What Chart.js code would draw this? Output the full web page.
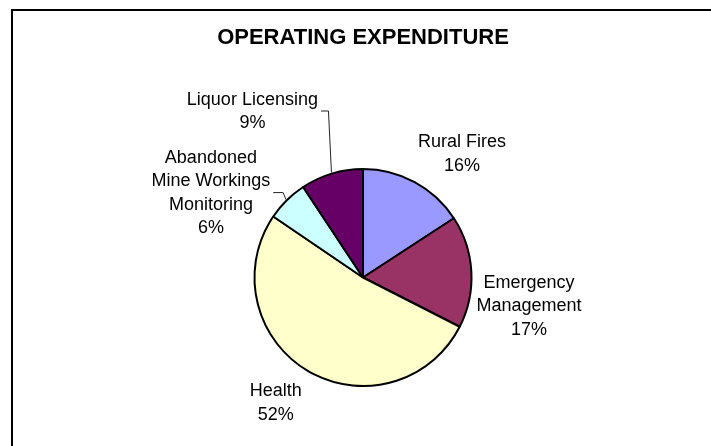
<!DOCTYPE html>
<html>
<head>
<meta charset="utf-8">
<script src="https://cdn.jsdelivr.net/npm/chart.js@4.4.0/dist/chart.umd.min.js"></script>
<style>
    html, body { margin: 0; padding: 0; background: #fff; overflow: hidden; }
    #frame {
        position: absolute; left: 11px; top: 9px; width: 800px; height: 600px;
        border-left: 2px solid #000; border-top: 2px solid #000;
    }
    #expChart { position: absolute; left: 0; top: 0; }
</style>
</head>
<body>
<div id="frame"></div>
<canvas id="expChart" width="711" height="446"></canvas>
<script>
// ── DATA ────────────────────────────────────────────────────────────────
const categories = [
    ['Rural Fires'],
    ['Emergency', 'Management'],
    ['Health'],
    ['Abandoned', 'Mine Workings', 'Monitoring'],
    ['Liquor Licensing']
];
const expenditure = [15.8, 16.7, 52.0, 6.2, 9.3];
const sliceColors = ['#9999FF', '#993366', '#FFFFCC', '#CCFFFF', '#660066'];

// label placement relative to each slice: angle shift (deg) from the slice middle,
// distance as a multiple of the pie radius, and whether a leader line is drawn
const labelPlace = [
    { shift: 9.9, dist: 1.47, leader: false },
    { shift: 12.4, dist: 1.55, leader: false },
    { shift: 4.5, dist: 1.40, leader: false },
    { shift: -15.9, dist: 1.61, leader: true },
    { shift: -16.7, dist: 1.85, leader: true }
];

const FONT = '"Liberation Sans", Arial, sans-serif';

// ── SLICE LABELS PLUGIN ─────────────────────────────────────────────────
const sliceLabels = {
    id: 'sliceLabels',
    afterDatasetsDraw(chart) {
        const ctx = chart.ctx;
        const meta = chart.getDatasetMeta(0);
        const total = expenditure.reduce((a, b) => a + b, 0);
        const size = 18, lh = 23.5, cap = size * 0.716;

        ctx.save();
        ctx.font = size + 'px ' + FONT;
        ctx.fillStyle = '#000';
        ctx.textAlign = 'center';
        ctx.textBaseline = 'alphabetic';

        meta.data.forEach((arc, i) => {
            const { x, y, startAngle, endAngle, outerRadius } =
                arc.getProps(['x', 'y', 'startAngle', 'endAngle', 'outerRadius'], true);
            const mid = (startAngle + endAngle) / 2;
            const p = labelPlace[i];
            const a = mid + p.shift * Math.PI / 180;
            const d = outerRadius * p.dist;
            const cx = x + Math.cos(a) * d;
            const cy = y + Math.sin(a) * d;

            const lines = categories[i].concat([Math.round(expenditure[i] / total * 100) + '%']);
            const top = cy - (lines.length - 1) / 2 * lh;
            lines.forEach((t, k) => ctx.fillText(t, cx, top + k * lh + cap / 2));

            if (p.leader) {
                const w = Math.max(...lines.map(t => ctx.measureText(t).width));
                const r = outerRadius + 1;
                const ex = x + Math.cos(mid) * r;
                const ey = y + Math.sin(mid) * r;
                ctx.strokeStyle = '#222';
                ctx.lineWidth = 1;
                ctx.beginPath();
                ctx.moveTo(cx + w / 2 + 3, cy + 1);
                ctx.lineTo(ex - 3, cy + 1);
                ctx.lineTo(ex, ey);
                ctx.stroke();
            }
        });
        ctx.restore();
    }
};

// ── OPERATING EXPENDITURE PIE ───────────────────────────────────────────
new Chart(document.getElementById('expChart').getContext('2d'), {
    type: 'pie',
    data: {
        labels: categories,
        datasets: [{
            data: expenditure,
            backgroundColor: sliceColors,
            borderColor: '#000',
            borderWidth: 2
        }]
    },
    options: {
        responsive: false,
        animation: false,
        layout: { padding: { top: 0, bottom: 59, left: 100, right: 85 } },
        plugins: {
            legend: { display: false },
            tooltip: { enabled: false },
            title: {
                display: true,
                text: 'OPERATING EXPENDITURE',
                color: '#000',
                font: { family: FONT, size: 22, weight: 'bold' },
                padding: { top: 25, bottom: 116.6 }
            }
        }
    },
    plugins: [sliceLabels]
});
</script>
</body>
</html>
